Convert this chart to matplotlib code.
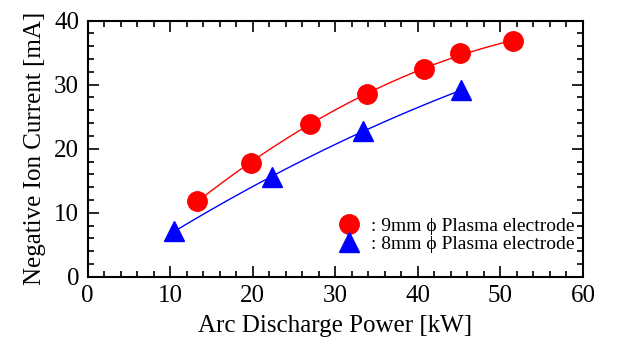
import numpy as np
import matplotlib
matplotlib.use("Agg")
import matplotlib.pyplot as plt
from matplotlib.ticker import MultipleLocator

# Data
power_9mm = [13.3, 19.8, 26.9, 33.9, 40.8, 45.1, 51.5]
current_9mm = [11.8, 17.8, 23.9, 28.6, 32.4, 34.9, 36.8]
power_8mm = [10.5, 22.3, 33.4, 45.2]
current_8mm = [7.1, 15.6, 22.8, 29.1]

label_9mm = ": 9mm \u03d5 Plasma electrode"
label_8mm = ": 8mm \u03d5 Plasma electrode"

plt.rcParams["font.family"] = ["Liberation Serif", "DejaVu Serif"]

fig = plt.figure(figsize=(6.23, 3.5), dpi=100)
ax = fig.add_axes([87.5 / 623, 1 - 276.7 / 350, (583 - 87.5) / 623, (276.7 - 20.7) / 350])

# smooth fit curves through the measured points
for x, y, c in [(power_9mm, current_9mm, "red"), (power_8mm, current_8mm, "blue")]:
    coef = np.polyfit(x, y, 2)
    xs = np.linspace(min(x), max(x), 200)
    ax.plot(xs, np.polyval(coef, xs), color=c, linewidth=1.0, zorder=2)

ax.plot(power_9mm, current_9mm, "o", color="red", markersize=14, linestyle="none",
        label=label_9mm, zorder=3)
ax.plot(power_8mm, current_8mm, "^", color="blue", markersize=15, linestyle="none",
        label=label_8mm, zorder=3)

ax.set_xlim(0, 60)
ax.set_ylim(0, 40)
ax.xaxis.set_major_locator(MultipleLocator(10))
ax.xaxis.set_minor_locator(MultipleLocator(2))
ax.yaxis.set_major_locator(MultipleLocator(10))
ax.yaxis.set_minor_locator(MultipleLocator(2))
ax.tick_params(which="both", direction="in", top=True, right=True, labelsize=18, width=1.2)
ax.tick_params(which="major", length=8, pad=6)
ax.tick_params(which="minor", length=4)
for s in ax.spines.values():
    s.set_linewidth(1.5)

ax.set_xlabel("Arc Discharge Power [kW]", fontsize=18, labelpad=6)
ax.set_ylabel("Negative Ion Current [mA]", fontsize=18, labelpad=6)

ax.legend(loc="lower right", bbox_to_anchor=(1.01, 0.04), frameon=False, fontsize=14,
          handletextpad=0.5, labelspacing=0.0, borderaxespad=0.3, handlelength=1.2)

fig.savefig("out.png", dpi=100)
